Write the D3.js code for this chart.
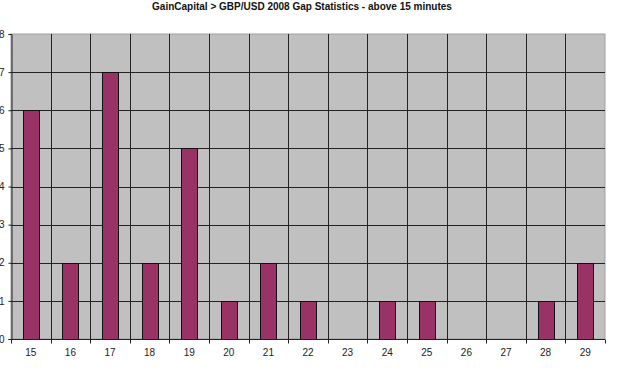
<!DOCTYPE html>
<html>
<head>
<meta charset="utf-8">
<script src="https://cdn.jsdelivr.net/npm/d3@7"></script>
<style>
  body { margin: 0; background: #fff; }
  svg { display: block; font-family: Arial, "Liberation Sans", sans-serif; }
</style>
</head>
<body>
<svg id="chart" width="625" height="384"></svg>
<script>
const title = 'GainCapital > GBP/USD 2008 Gap Statistics - above 15 minutes';
const categories = ['15', '16', '17', '18', '19', '20', '21', '22', '23', '24', '25', '26', '27', '28', '29'];
const gaps = [6, 2, 7, 2, 5, 1, 2, 1, 0, 1, 1, 0, 0, 1, 2];
const yTicks = [0, 1, 2, 3, 4, 5, 6, 7, 8];

const svg = d3.select('#chart');
const m = { left: 11, right: 20, top: 34, bottom: 45 };
const W = 625, H = 384;

const x = d3.scaleBand().domain(categories).range([m.left, W - m.right]).paddingInner(0).paddingOuter(0);
const y = d3.scaleLinear().domain([0, 8]).range([H - m.bottom, m.top]);

// plot background
svg.append('rect')
  .attr('x', m.left).attr('y', m.top)
  .attr('width', W - m.left - m.right).attr('height', H - m.top - m.bottom)
  .attr('fill', '#c0c0c0').attr('stroke', '#a0a0a0');

// horizontal grid
svg.append('g').selectAll('line').data(yTicks.slice(1, -1)).enter().append('line')
  .attr('x1', m.left).attr('x2', W - m.right)
  .attr('y1', d => Math.round(y(d)) + 0.5).attr('y2', d => Math.round(y(d)) + 0.5)
  .attr('stroke', '#222');

// vertical grid at category boundaries
svg.append('g').selectAll('line').data(categories.slice(1)).enter().append('line')
  .attr('x1', d => Math.round(x(d)) + 0.5).attr('x2', d => Math.round(x(d)) + 0.5)
  .attr('y1', m.top).attr('y2', H - m.bottom)
  .attr('stroke', '#222');

// bars
const bw = x.bandwidth() * 0.4;
svg.append('g').selectAll('rect').data(categories).enter().append('rect')
  .attr('x', (d) => Math.round(x(d) + (x.bandwidth() - bw) / 2) + 0.5)
  .attr('y', (d, i) => Math.round(y(gaps[i])) + 0.5)
  .attr('width', Math.round(bw))
  .attr('height', (d, i) => Math.round(y(0)) - Math.round(y(gaps[i])))
  .attr('fill', '#993366')
  .attr('stroke', '#111')
  .attr('display', (d, i) => gaps[i] ? null : 'none');

// y axis
const yAxis = svg.append('g').attr('transform', `translate(${m.left + 0.5},0)`)
  .call(d3.axisLeft(y).tickValues(yTicks).tickSize(3).tickPadding(4).tickFormat(d3.format('d')));
yAxis.select('.domain').attr('stroke', '#222');
yAxis.selectAll('.tick line').attr('stroke', '#222');
yAxis.selectAll('text').attr('font-size', 10).attr('fill', '#222');

// x axis: ticks at category boundaries, labels centered
const xAxisY = Math.round(y(0)) + 0.5;
const bounds = categories.map(c => x(c)).concat([x.range()[1]]);
svg.append('line').attr('x1', m.left).attr('x2', W - m.right)
  .attr('y1', xAxisY).attr('y2', xAxisY).attr('stroke', '#222');
svg.append('g').selectAll('line').data(bounds).enter().append('line')
  .attr('x1', d => Math.round(d) + 0.5).attr('x2', d => Math.round(d) + 0.5)
  .attr('y1', xAxisY).attr('y2', xAxisY + 4).attr('stroke', '#222');
svg.append('g').selectAll('text').data(categories).enter().append('text')
  .attr('x', d => x(d) + x.bandwidth() / 2)
  .attr('y', xAxisY + 16)
  .attr('text-anchor', 'middle')
  .attr('font-size', 10).attr('fill', '#222')
  .text(d => d);

// title
svg.append('text')
  .attr('x', 302).attr('y', 10)
  .attr('text-anchor', 'middle')
  .attr('font-size', 10).attr('font-weight', 'bold').attr('fill', '#111')
  .text(title);
</script>
</body>
</html>
